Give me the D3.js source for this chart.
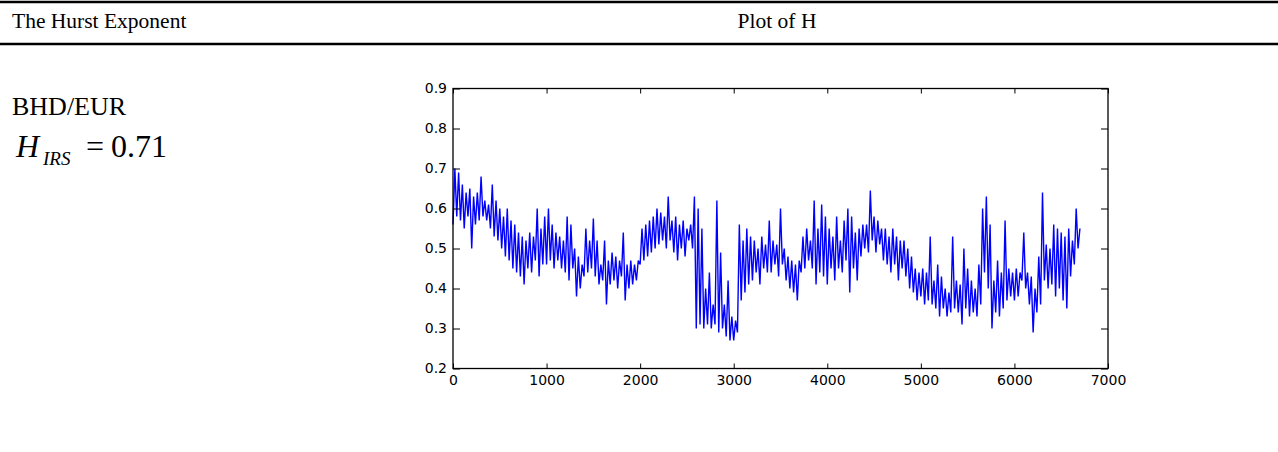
<!DOCTYPE html>
<html lang="en">
<head>
    <meta charset="UTF-8">
    <title>The Hurst Exponent - Plot of H</title>
    <style>
        body {
            margin: 0;
            background: white;
            overflow: hidden;
        }
        .serif {
            font-family: 'Liberation Serif', 'Times New Roman', serif;
            fill: black;
        }
        .axis text {
            font-family: 'DejaVu Sans', Arial, sans-serif;
            font-size: 14px;
            fill: black;
        }
        .axis line {
            stroke: black;
            stroke-width: 1;
        }
    </style>
    <script src="https://d3js.org/d3.v7.min.js"></script>
</head>
<body>
    <div id="chart"></div>
    <script>
        // header and left-hand labels
        const headerLabels = ["The Hurst Exponent", "Plot of H"];
        const seriesName = "BHD/EUR";
        const hSymbol = "H";
        const hSubscript = "IRS";
        const hValue = "0.71";

        // axis ticks
        const xTicks = [0, 1000, 2000, 3000, 4000, 5000, 6000, 7000];
        const yTicks = [0.2, 0.3, 0.4, 0.5, 0.6, 0.7, 0.8, 0.9];

        const hurstStep = 20;
        const hurstValues = [
            0.56, 0.70, 0.58, 0.69, 0.57, 0.66, 0.55, 0.64, 0.58, 0.65,   // 0
            0.50, 0.63, 0.56, 0.64, 0.57, 0.68, 0.58, 0.62, 0.57, 0.61,   // 200
            0.55, 0.66, 0.53, 0.62, 0.52, 0.60, 0.50, 0.58, 0.48, 0.60,   // 400
            0.47, 0.57, 0.45, 0.56, 0.44, 0.54, 0.43, 0.53, 0.41, 0.52,   // 600
            0.45, 0.54, 0.44, 0.53, 0.47, 0.60, 0.43, 0.55, 0.46, 0.58,   // 800
            0.46, 0.60, 0.47, 0.56, 0.45, 0.54, 0.47, 0.53, 0.45, 0.52,   // 1000
            0.44, 0.58, 0.42, 0.56, 0.45, 0.50, 0.38, 0.48, 0.40, 0.46,   // 1200
            0.43, 0.55, 0.44, 0.52, 0.45, 0.575, 0.43, 0.52, 0.41, 0.46,  // 1400
            0.42, 0.52, 0.36, 0.47, 0.41, 0.49, 0.42, 0.48, 0.40, 0.47,   // 1600
            0.43, 0.54, 0.37, 0.46, 0.40, 0.47, 0.41, 0.46, 0.42, 0.47,   // 1800
            0.46, 0.55, 0.47, 0.56, 0.48, 0.57, 0.49, 0.58, 0.50, 0.60,   // 2000
            0.51, 0.59, 0.52, 0.58, 0.50, 0.63, 0.52, 0.57, 0.49, 0.58,   // 2200
            0.47, 0.56, 0.50, 0.57, 0.48, 0.55, 0.52, 0.56, 0.50, 0.63,   // 2400
            0.30, 0.60, 0.31, 0.55, 0.30, 0.40, 0.31, 0.44, 0.30, 0.36,   // 2600
            0.31, 0.62, 0.29, 0.49, 0.30, 0.36, 0.28, 0.42, 0.27, 0.33,   // 2800
            0.27, 0.32, 0.29, 0.56, 0.37, 0.52, 0.39, 0.55, 0.41, 0.53,   // 3000
            0.42, 0.52, 0.44, 0.50, 0.41, 0.53, 0.45, 0.51, 0.44, 0.57,   // 3200
            0.44, 0.52, 0.46, 0.51, 0.43, 0.60, 0.46, 0.50, 0.42, 0.48,   // 3400
            0.40, 0.47, 0.39, 0.46, 0.37, 0.47, 0.44, 0.53, 0.45, 0.55,   // 3600
            0.47, 0.52, 0.45, 0.62, 0.41, 0.55, 0.44, 0.61, 0.43, 0.58,   // 3800
            0.41, 0.55, 0.45, 0.53, 0.42, 0.58, 0.45, 0.52, 0.44, 0.57,   // 4000
            0.47, 0.60, 0.39, 0.58, 0.45, 0.54, 0.42, 0.55, 0.48, 0.56,   // 4200
            0.50, 0.56, 0.49, 0.645, 0.52, 0.58, 0.49, 0.57, 0.51, 0.55,  // 4400
            0.47, 0.55, 0.46, 0.53, 0.44, 0.55, 0.46, 0.53, 0.42, 0.52,   // 4600
            0.45, 0.52, 0.43, 0.50, 0.40, 0.48, 0.39, 0.45, 0.37, 0.44,   // 4800
            0.38, 0.45, 0.36, 0.44, 0.37, 0.53, 0.36, 0.42, 0.35, 0.46,   // 5000
            0.33, 0.43, 0.35, 0.40, 0.33, 0.39, 0.34, 0.53, 0.35, 0.42,   // 5200
            0.34, 0.41, 0.31, 0.50, 0.35, 0.45, 0.33, 0.42, 0.34, 0.40,   // 5400
            0.33, 0.46, 0.36, 0.60, 0.44, 0.63, 0.40, 0.56, 0.30, 0.42,   // 5600
            0.34, 0.47, 0.33, 0.44, 0.35, 0.57, 0.37, 0.45, 0.38, 0.44,   // 5800
            0.37, 0.45, 0.38, 0.44, 0.42, 0.54, 0.40, 0.44, 0.36, 0.43,   // 6000
            0.29, 0.40, 0.34, 0.48, 0.36, 0.64, 0.42, 0.51, 0.40, 0.50,   // 6200
            0.41, 0.56, 0.38, 0.55, 0.40, 0.54, 0.37, 0.53, 0.35, 0.55,   // 6400
            0.43, 0.52, 0.46, 0.60, 0.50, 0.55                            // 6600
        ];

        const width = 1278, height = 452;
        const plot = { left: 453, right: 1108, top: 88.5, bottom: 368.5 };

        const svg = d3.select("#chart")
            .append("svg")
            .attr("width", width)
            .attr("height", height);

        svg.append("rect")
            .attr("width", width)
            .attr("height", height)
            .attr("fill", "white");

        // table header rules
        svg.append("line")
            .attr("x1", 0).attr("x2", width)
            .attr("y1", 2).attr("y2", 2)
            .attr("stroke", "black").attr("stroke-width", 2.5);
        svg.append("line")
            .attr("x1", 0).attr("x2", width)
            .attr("y1", 44).attr("y2", 44)
            .attr("stroke", "black").attr("stroke-width", 2.5);

        svg.append("text")
            .attr("class", "serif")
            .attr("x", 12).attr("y", 28)
            .attr("font-size", "21.5px")
            .text(headerLabels[0]);
        svg.append("text")
            .attr("class", "serif")
            .attr("x", 777).attr("y", 28)
            .attr("text-anchor", "middle")
            .attr("font-size", "21.5px")
            .text(headerLabels[1]);

        // left column
        svg.append("text")
            .attr("class", "serif")
            .attr("x", 12).attr("y", 115)
            .attr("font-size", "26px")
            .text(seriesName);
        svg.append("text")
            .attr("class", "serif")
            .attr("x", 16).attr("y", 157)
            .attr("font-size", "32px")
            .attr("font-style", "italic")
            .text(hSymbol);
        svg.append("text")
            .attr("class", "serif")
            .attr("x", 43).attr("y", 165)
            .attr("font-size", "19px")
            .attr("font-style", "italic")
            .text(hSubscript);
        svg.append("text")
            .attr("class", "serif")
            .attr("x", 86).attr("y", 157)
            .attr("font-size", "32px")
            .text("=");
        svg.append("text")
            .attr("class", "serif")
            .attr("x", 111).attr("y", 157)
            .attr("font-size", "32px")
            .text(hValue);

        // plot of H
        const x = d3.scaleLinear().domain([0, 7000]).range([plot.left, plot.right]);
        const y = d3.scaleLinear().domain([0.2, 0.9]).range([plot.bottom, plot.top]);

        const line = d3.line()
            .x((d, i) => x(i * hurstStep))
            .y(d => y(d));

        svg.append("path")
            .datum(hurstValues)
            .attr("d", line)
            .attr("fill", "none")
            .attr("stroke", "#0000ff")
            .attr("stroke-width", 1.4)
            .attr("stroke-linejoin", "bevel");

        svg.append("g")
            .attr("class", "axis")
            .attr("transform", `translate(0,${plot.bottom})`)
            .call(d3.axisBottom(x).tickValues(xTicks).tickSize(-5).tickPadding(7).tickFormat(d3.format("d")));
        svg.append("g")
            .attr("class", "axis")
            .attr("transform", `translate(0,${plot.top})`)
            .call(d3.axisTop(x).tickValues(xTicks).tickSize(-5).tickFormat(""));
        svg.append("g")
            .attr("class", "axis")
            .attr("transform", `translate(${plot.left},0)`)
            .call(d3.axisLeft(y).tickValues(yTicks).tickSize(-7).tickPadding(6).tickFormat(d3.format(".1f")));
        svg.append("g")
            .attr("class", "axis")
            .attr("transform", `translate(${plot.right},0)`)
            .call(d3.axisRight(y).tickValues(yTicks).tickSize(-7).tickFormat(""));

        svg.selectAll(".axis .domain").remove();

        svg.append("rect")
            .attr("x", plot.left).attr("y", plot.top)
            .attr("width", plot.right - plot.left)
            .attr("height", plot.bottom - plot.top)
            .attr("fill", "none")
            .attr("stroke", "black")
            .attr("stroke-width", 1.3);
    </script>
</body>
</html>
